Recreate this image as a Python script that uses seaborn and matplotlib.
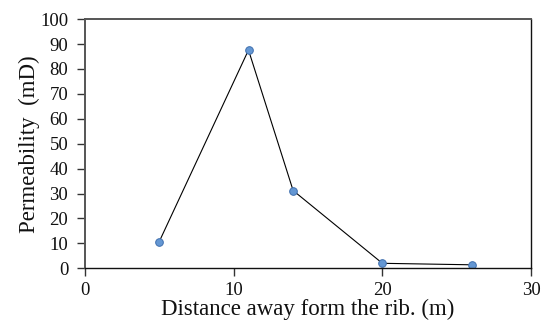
import matplotlib
matplotlib.use("Agg")
import matplotlib.pyplot as plt
import seaborn as sns
import pandas as pd

distance = [5, 11, 14, 20, 26]
permeability = [10.7, 87.6, 31.2, 2.0, 1.4]
x_ticks = [0, 10, 20, 30]
y_ticks = [0, 10, 20, 30, 40, 50, 60, 70, 80, 90, 100]

df = pd.DataFrame({"distance": distance, "permeability": permeability})

sns.set_style("ticks")
plt.rcParams["font.family"] = ["Liberation Serif", "DejaVu Serif"]

fig = plt.figure(figsize=(5.51, 3.3), dpi=100)
ax = fig.add_axes([0.154, 0.187, 0.81, 0.755])
sns.lineplot(data=df, x="distance", y="permeability", ax=ax, color="black",
             linewidth=0.8, marker="o", markersize=5.5,
             markerfacecolor="#6497d3", markeredgecolor="#3f6fae",
             markeredgewidth=0.7)
ax.set_xlim(0, 30)
ax.set_ylim(0, 100)
ax.set_xticks(x_ticks)
ax.set_yticks(y_ticks)
ax.tick_params(axis="both", labelsize=13.5, length=6, width=1, color="#333333",
               direction="out", labelcolor="#111111")
ax.tick_params(axis="y", pad=6)
ax.tick_params(axis="x", pad=4)
for name, s in ax.spines.items():
    s.set_visible(True)
    s.set_color("#111111")
    s.set_linewidth(1)
ax.spines["left"].set_color("#555555")
ax.spines["left"].set_linewidth(1.4)
ax.spines["top"].set_color("#555555")
ax.spines["top"].set_linewidth(1.4)
ax.set_xlabel("Distance away form the rib. (m)", fontsize=16.5, labelpad=0, color="#111111")
ax.set_ylabel("Permeability  (mD)", fontsize=16.5, labelpad=0, color="#111111")
fig.savefig("out.png", dpi=100)
